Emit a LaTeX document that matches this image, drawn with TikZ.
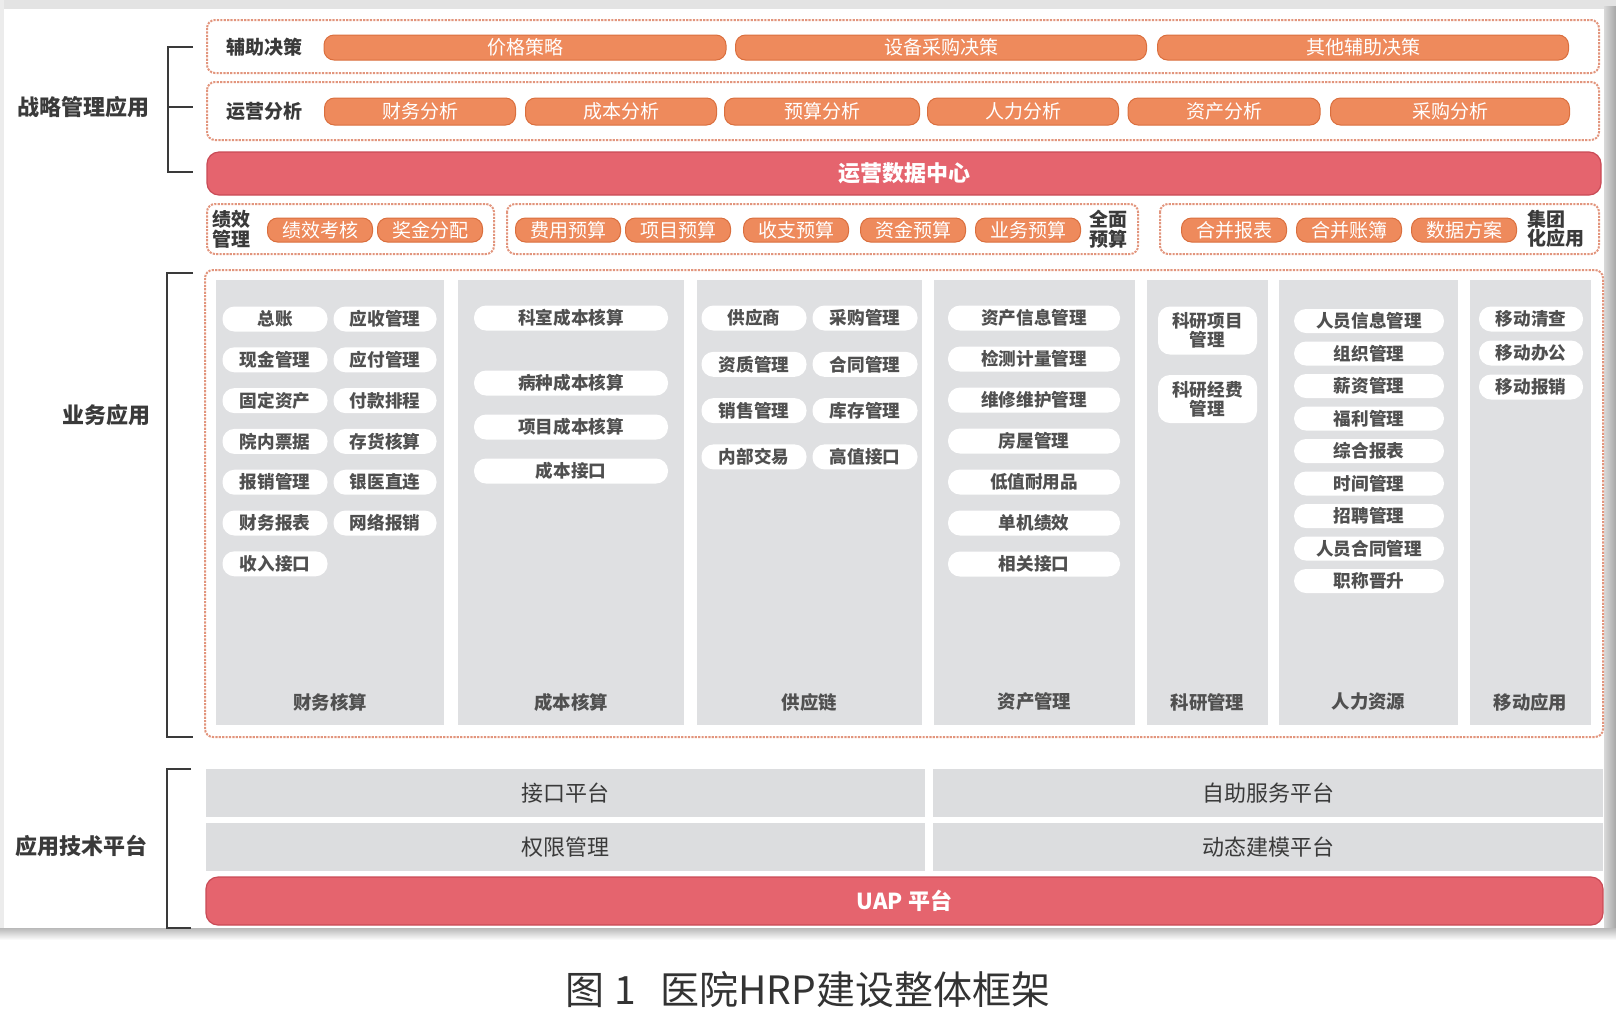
\documentclass[tikz,border=0pt]{standalone}
\usepackage{fontspec}
\setmainfont{Noto Sans CJK SC}
\definecolor{pillorange}{HTML}{EE8A5C}
\definecolor{pilledge}{HTML}{DA6F3E}
\definecolor{barred}{HTML}{E5646E}
\definecolor{baredge}{HTML}{C94B56}
\definecolor{dotline}{HTML}{E2957D}
\definecolor{colgray}{HTML}{DFE0E2}
\definecolor{platgray}{HTML}{DCDDDF}
\definecolor{labelgray}{HTML}{3A3A3A}
\definecolor{itemgray}{HTML}{505050}
\tikzset{
  toppill/.style={draw=pilledge, line width=0.5pt, fill=pillorange, rounded corners=5pt,
    text=white, font=\fontsize{9.5}{10}\selectfont, inner sep=0pt},
  itempill/.style={fill=white, rounded corners=6pt, text=itemgray,
    font=\bfseries\fontsize{8.8}{9.5}\selectfont, inner sep=0pt, align=center},
  dotbox/.style={draw=dotline, line width=1pt, dash pattern=on 1.1pt off 0.6pt, rounded corners=4pt},
  redbar/.style={draw=baredge, line width=0.6pt, fill=barred, rounded corners=6pt,
    text=white, font=\bfseries\fontsize{11}{12}\selectfont, inner sep=0pt},
  platbox/.style={fill=platgray, text=labelgray, font=\fontsize{11}{12}\selectfont,
    inner sep=0pt, minimum height=24pt},
  rowlabel/.style={text=labelgray, font=\bfseries\fontsize{9.5}{9.8}\selectfont, align=center, inner sep=0pt},
  sidelabel/.style={text=labelgray, font=\bfseries\fontsize{11}{12}\selectfont},
  coltitle/.style={text=itemgray, font=\bfseries\fontsize{9.2}{10}\selectfont},
  brace/.style={draw=labelgray, line width=1pt}
}
\begin{document}
\begin{tikzpicture}[x=0.5pt,y=-0.5pt]
  \useasboundingbox (0,0) rectangle (1616,1008);
  % frame of the scan
  \fill[gray!22] (0,0) rectangle (1616,9);
  \fill[gray!15] (0,0) rectangle (4,935);
  \shade[left color=gray!30, right color=gray!70] (1604,6) rectangle (1616,935);
  \shade[top color=gray!55, bottom color=white] (0,928) rectangle (1616,940);

  % strategy layer
  \draw[brace] (193,47) -- (168,47) -- (168,172) -- (193,172);
  \draw[brace] (168,107) -- (193,107);
  \node[sidelabel] (zl) at (84,107) {战略管理应用};

  \draw[dotbox] (207,20) rectangle (1599,73);
  \node[rowlabel] (fz) at (264,47) {辅助决策};
  \foreach \c/\w/\t [count=\i] in {525/402/价格策略, 941/411/设备采购决策, 1363/411/其他辅助决策}
    \node[toppill, minimum width=\w*0.5pt, minimum height=12.5pt] (fz\i) at (\c,47.5) {\t};

  \draw[dotbox] (207,82) rectangle (1599,140);
  \node[rowlabel] (yy) at (264,111) {运营分析};
  \foreach \c/\w/\t [count=\i] in {420/191/财务分析, 621/191/成本分析, 822/195/预算分析, 1023/191/人力分析, 1224/192/资产分析, 1450/239/采购分析}
    \node[toppill, minimum width=\w*0.5pt, minimum height=13.5pt] (yy\i) at (\c,111.5) {\t};

  \node[redbar, minimum width=697pt, minimum height=21.5pt] (sjzx) at (904,173.5) {运营数据中心};

  \draw[dotbox] (207,204) rectangle (494,254);
  \draw[dotbox] (507,204) rectangle (1138,254);
  \draw[dotbox] (1160,204) rectangle (1599,254);
  \node[rowlabel] (jx) at (231,229) {绩效\\管理};
  \foreach \c/\t [count=\i] in {320/绩效考核, 430/奖金分配}
    \node[toppill, minimum width=52.5pt, minimum height=12pt] (jx\i) at (\c,230) {\t};
  \foreach \c/\t [count=\i] in {568/费用预算, 678/项目预算, 796/收支预算, 913/资金预算, 1028/业务预算}
    \node[toppill, minimum width=52.5pt, minimum height=12pt] (ys\i) at (\c,230) {\t};
  \node[rowlabel] (ys) at (1108,229) {全面\\预算};
  \foreach \c/\t [count=\i] in {1234/合并报表, 1349/合并账簿, 1464/数据方案}
    \node[toppill, minimum width=52.5pt, minimum height=12pt] (jt\i) at (\c,230) {\t};
  \node[rowlabel, align=left, anchor=west] (jt) at (1527,229) {集团\\化应用};

  % business layer
  \draw[brace] (193,273) -- (167,273) -- (167,737) -- (193,737);
  \node[sidelabel] (yw) at (106,415) {业务应用};
  \draw[dotbox] (205,270) rectangle (1603,737);
  \foreach \a/\b/\t [count=\i] in {216/444/财务核算, 458/684/成本核算, 697/922/供应链, 934/1135/资产管理, 1147/1268/科研管理, 1279/1458/人力资源, 1470/1591/移动应用}{
    \fill[colgray] (\a,280) rectangle (\b,725);
    \node[coltitle] (col\i) at ({(\a+\b)/2},702) {\t};
  }
  \foreach \t [count=\i] in {总账, 现金管理, 固定资产, 院内票据, 报销管理, 财务报表, 收入接口}
    \node[itempill, minimum width=52.5pt, minimum height=12.5pt] (cwl\i) at (275,{278.2+40.8*\i}) {\t};
  \foreach \t [count=\i] in {应收管理, 应付管理, 付款排程, 存货核算, 银医直连, 网络报销}
    \node[itempill, minimum width=51.5pt, minimum height=12.5pt] (cwr\i) at (385,{278.2+40.8*\i}) {\t};
  \foreach \y/\t [count=\i] in {318/科室成本核算, 383/病种成本核算, 427/项目成本核算, 471/成本接口}
    \node[itempill, minimum width=97pt, minimum height=12.5pt] (cb\i) at (571,\y) {\t};
  \foreach \t [count=\i] in {供应商, 资质管理, 销售管理, 内部交易}
    \node[itempill, minimum width=52.5pt, minimum height=12.5pt] (gyl\i) at (754,{271.7+46.3*\i}) {\t};
  \foreach \t [count=\i] in {采购管理, 合同管理, 库存管理, 高值接口}
    \node[itempill, minimum width=52.5pt, minimum height=12.5pt] (gyr\i) at (865,{271.7+46.3*\i}) {\t};
  \foreach \t [count=\i] in {资产信息管理, 检测计量管理, 维修维护管理, 房屋管理, 低值耐用品, 单机绩效, 相关接口}
    \node[itempill, minimum width=86pt, minimum height=12.5pt] (zc\i) at (1034,{277+41*\i}) {\t};
  \node[itempill, minimum width=49.5pt, minimum height=24pt] (ky1) at (1207.5,330.5) {科研项目\\管理};
  \node[itempill, minimum width=49.5pt, minimum height=24pt] (ky2) at (1207.5,399) {科研经费\\管理};
  \foreach \t [count=\i] in {人员信息管理, 组织管理, 薪资管理, 福利管理, 综合报表, 时间管理, 招聘管理, 人员合同管理, 职称晋升}
    \node[itempill, minimum width=75pt, minimum height=12pt] (rl\i) at (1369,{288.5+32.5*\i}) {\t};
  \foreach \t [count=\i] in {移动清查, 移动办公, 移动报销}
    \node[itempill, minimum width=52pt, minimum height=12.5pt] (yd\i) at (1531,{285+34*\i}) {\t};

  % platform layer
  \draw[brace] (191,769) -- (167,769) -- (167,928) -- (191,928);
  \node[sidelabel] (js) at (82,846) {应用技术平台};
  \node[platbox, minimum width=359.5pt] (jk) at (565.5,793) {接口平台};
  \node[platbox, minimum width=335pt] (zz) at (1268,793) {自助服务平台};
  \node[platbox, minimum width=359.5pt] (qx) at (565.5,847) {权限管理};
  \node[platbox, minimum width=335pt] (dt) at (1268,847) {动态建模平台};
  \node[redbar, minimum width=698.5pt, minimum height=24pt] (uap) at (904.5,901) {UAP 平台};

  \node[font=\fontsize{19.5}{21}\selectfont, text=black!80] (cap) at (808,990) {图\hspace{5pt}1\hspace{12pt}医院HRP建设整体框架};
\end{tikzpicture}
\end{document}
